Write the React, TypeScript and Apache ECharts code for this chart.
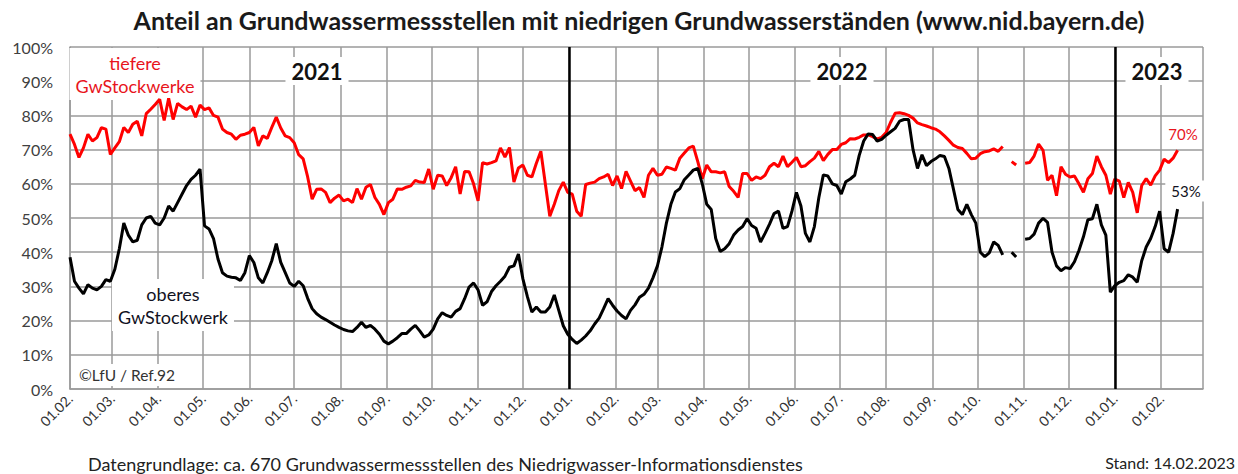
import React, { useEffect, useRef } from "react";
import * as echarts from "echarts";

// ---- data, one value every STEP_DAYS days from START_DATE ----
const START_DATE = "2021-02-01";
const END_DATE = "2023-03-01";
const STEP_DAYS = 3;
const YEAR_MARKS = ["2022-01-01", "2023-01-01"];
const Y_TICKS = [0, 10, 20, 30, 40, 50, 60, 70, 80, 90, 100];

// tiefere GwStockwerke (red)
const tiefere: (number | null)[] = [
  74.5, 71.5, 67.7, 70.5, 74.5, 72.5, 73.5, 76.4, 76, 68.6,
  70.5, 72.3, 76.5, 75, 77.4, 78.3, 74, 80.5, 81.8, 83.2,
  84.7, 78.5, 85, 78.8, 83.5, 82.5, 81.7, 82.7, 79.5, 83,
  81.7, 82.2, 80, 79.5, 76, 75, 74.5, 73, 74.2, 74.5,
  75, 76.5, 71.1, 74, 73.3, 76.5, 79.5, 76.3, 74, 73.5,
  72, 68.5, 67.3, 62, 55.5, 58.4, 58.5, 57.5, 54.5, 55.8,
  56.7, 55, 55.5, 54.5, 58.6, 55.5, 59, 59.8, 56, 54,
  51, 54.5, 55.5, 58.5, 58.4, 59, 59.4, 61, 60.5, 60.4,
  64.3, 58.4, 62.5, 62.3, 59.5, 61.8, 65, 57, 63.6, 63.5,
  60, 55, 66.2, 65.8, 66.2, 66.7, 70.5, 67.8, 70.6, 60.5,
  64.6, 65.5, 62.5, 62, 66, 69.5, 60, 50.5, 54, 58,
  60.5, 57.5, 57, 52, 50.5, 59.8, 60.2, 60.5, 61.5, 62,
  62.8, 59.5, 62.3, 58.6, 63.6, 60.8, 58, 58.9, 56, 62.5,
  64.5, 62.5, 62.8, 64.9, 64.5, 64, 67.5, 69, 70.5, 71,
  66.5, 61.5, 65.5, 63.5, 63.5, 63.2, 63.5, 59.2, 57.8, 56,
  63, 63, 61, 62, 61.5, 62.5, 65, 66, 65, 68.1,
  65, 66.3, 67.7, 65, 65.3, 66.5, 67.5, 69.5, 66.8, 68.6,
  70, 70, 71.5, 72, 73.2, 73.1, 73.6, 74.3, 74.3, 73.8,
  73.1, 73.6, 75, 78, 80.6, 80.8, 80.5, 80, 79.2, 77.8,
  77.3, 76.9, 76.4, 76, 75.2, 74, 72.7, 71.3, 70.6, 70.3,
  68.9, 67.3, 67.5, 68.8, 69.4, 69.6, 70.2, 69.5, 70.9, null,
  66.5, 65.5, null, 66, 66.2, 68.1, 71.6, 69.8, 61, 62.5,
  56.5, 65, 62.8, 62, 62.3, 60, 57.5, 61.5, 63, 68.1,
  65, 62.5, 57, 61.4, 60.8, 56, 60.4, 57.5, 51.5, 59.5,
  61.5, 59.6, 62.3, 64, 67.2, 66.2, 67.5, 69.8,
];

// oberes GwStockwerk (black)
const oberes: (number | null)[] = [
  38.5, 31.5, 29.5, 27.8, 30.5, 29.5, 29, 30, 32, 31.5,
  35, 41, 48.5, 45, 43, 43.5, 48, 50, 50.5, 48.5,
  48, 50, 53.5, 52, 54.5, 57, 59.5, 61.3, 62.5, 64.3,
  47.7, 46.8, 44, 38, 34, 33, 32.7, 32.5, 31.7, 34,
  39, 37, 32.5, 31, 34, 37.5, 42.5, 37, 34, 31,
  30, 31.5, 30.2, 26.5, 23.5, 22, 21, 20.3, 19.5, 18.7,
  18, 17.4, 17, 16.8, 18, 19.5, 18, 18.6, 17.5, 16,
  14, 13.2, 14, 15, 16.2, 16.2, 17.5, 18.6, 17, 15.2,
  15.8, 17.5, 20.5, 22.3, 21.5, 21, 22.7, 23.5, 26.4, 29.8,
  31, 29, 24.5, 25.5, 28.5, 30.2, 31.5, 33, 35.6, 36,
  39.5, 32.2, 27, 22.5, 24, 22.5, 22.5, 24, 27.5, 23,
  18.5, 16, 14.5, 13.3, 14.3, 15.5, 17, 19, 20.7, 23.5,
  26.4, 24.5, 22.8, 21.5, 20.5, 23, 24.6, 26.8, 27.7, 29.5,
  32.5, 36, 41.5, 48.5, 54, 57.6, 58.6, 61.2, 62.6, 64,
  64.5, 60, 54, 52.5, 44, 40.2, 41, 42.5, 45, 46.5,
  47.5, 49.8, 47.8, 47, 43, 45.5, 48.2, 51.3, 52, 47,
  47.5, 52, 57.5, 53.5, 45.5, 43, 47.5, 56, 62.6, 62.3,
  60, 59.5, 57, 60.6, 61.4, 62.5, 68.3, 72.5, 74.6, 74.4,
  72.5, 73, 74.2, 75.2, 76.2, 78.3, 78.8, 78.8, 70, 64.5,
  68.5, 65.3, 66.5, 67.3, 68.3, 68, 64.5, 58.5, 52.5, 51,
  54, 51, 48.5, 40, 38.7, 39.8, 43, 42, 39.2, null,
  40, 38.6, null, 43.8, 44, 45.3, 48.5, 49.9, 48.7, 40,
  36, 34.6, 35.5, 35.2, 37.2, 40.5, 44.5, 49.5, 49.8, 54,
  48, 45, 28.3, 30.2, 31.2, 31.7, 33.4, 32.7, 31.2, 37.5,
  41.5, 44, 47.5, 52, 41, 40, 45.5, 52.6,
];

const FONT = "Lato, 'Open Sans', sans-serif";
const GRID_COLOR = "#9a9a9a";

function buildCategories(): string[] {
  const out: string[] = [];
  const start = Date.parse(START_DATE + "T00:00:00Z");
  const end = Date.parse(END_DATE + "T00:00:00Z");
  for (let t = start; t <= end; t += 86400000) {
    out.push(new Date(t).toISOString().slice(0, 10));
  }
  return out;
}

export default function App() {
  const ref = useRef<HTMLDivElement>(null);

  useEffect(() => {
    if (!ref.current) return;
    const chart = echarts.init(ref.current, undefined, { renderer: "svg" });
    const cats = buildCategories();
    const last = cats.length - 1;
    const toPairs = (vals: (number | null)[]) =>
      vals.map((v, i) => [i * STEP_DAYS, v === null ? null : v]);
    const isMonthStart = (_i: number, v: string) => v.endsWith("-01");

    const boxText = (
      text: string,
      x: number,
      y: number,
      font: string,
      fill: string,
      lineHeight?: number
    ) => ({
      type: "text",
      z: 1,
      style: {
        text,
        x,
        y,
        font,
        fill,
        align: "center",
        verticalAlign: "middle",
        backgroundColor: "#ffffff",
        padding: [3, 6],
        lineHeight,
      },
    });

    chart.setOption({
      animation: false,
      backgroundColor: "#ffffff",
      grid: { left: 70, right: 35, top: 47, bottom: 85, containLabel: false },
      xAxis: {
        type: "category",
        data: cats,
        boundaryGap: false,
        axisLine: { show: true, lineStyle: { color: GRID_COLOR, width: 1.5 } },
        axisTick: { show: false },
        axisLabel: {
          interval: (i: number, v: string) => v.endsWith("-01") && i < last,
          rotate: 45,
          margin: 7,
          fontFamily: FONT,
          fontSize: 14,
          color: "#333333",
          formatter: (v: string) => `${v.slice(8, 10)}.${v.slice(5, 7)}.`,
        },
        splitLine: {
          show: true,
          interval: isMonthStart,
          lineStyle: { color: GRID_COLOR, width: 1.5 },
        },
      },
      yAxis: {
        type: "value",
        min: Y_TICKS[0],
        max: Y_TICKS[Y_TICKS.length - 1],
        interval: Y_TICKS[1] - Y_TICKS[0],
        axisLine: { show: true, lineStyle: { color: GRID_COLOR, width: 1.5 } },
        axisTick: { show: false },
        axisLabel: {
          formatter: "{value}%",
          fontFamily: FONT,
          fontSize: 16,
          color: "#404040",
          margin: 17,
        },
        splitLine: { show: true, lineStyle: { color: GRID_COLOR, width: 1.5 } },
      },
      series: [
        {
          name: "tiefere GwStockwerke",
          type: "line",
          data: toPairs(tiefere),
          showSymbol: false,
          connectNulls: false,
          lineStyle: { color: "#ff0000", width: 3 },
          z: 3,
        },
        {
          name: "oberes GwStockwerk",
          type: "line",
          data: toPairs(oberes),
          showSymbol: false,
          connectNulls: false,
          lineStyle: { color: "#000000", width: 3 },
          z: 4,
          markLine: {
            silent: true,
            symbol: "none",
            label: { show: false },
            lineStyle: { color: "#000000", width: 2.5, type: "solid" },
            data: YEAR_MARKS.map((d) => ({ xAxis: d })),
          },
        },
      ],
      graphic: {
        elements: [
          {
            type: "text",
            z: 5,
            style: {
              text: "Anteil an Grundwassermessstellen mit niedrigen Grundwasserständen (www.nid.bayern.de)",
              x: 639,
              y: 20,
              font: `bold 25px ${FONT}`,
              fill: "#1a1a1a",
              align: "center",
              verticalAlign: "middle",
            },
          },
          boxText("tiefere\nGwStockwerke", 135, 74, `18px ${FONT}`, "#e8141c", 23),
          boxText("2021", 317, 71, `bold 22px ${FONT}`, "#111111"),
          boxText("2022", 842, 71, `bold 22px ${FONT}`, "#111111"),
          boxText("2023", 1157, 71, `bold 22px ${FONT}`, "#111111"),
          boxText("oberes\nGwStockwerk", 173, 305, `18px ${FONT}`, "#111122", 23),
          boxText("©LfU / Ref.92", 127, 375, `15.5px ${FONT}`, "#333333"),
          {
            type: "text",
            z: 5,
            style: {
              text: "70%",
              x: 1183,
              y: 134,
              font: `15px ${FONT}`,
              fill: "#e8141c",
              align: "center",
              verticalAlign: "middle",
            },
          },
          boxText("53%", 1186, 191, `15px ${FONT}`, "#111122"),
          {
            type: "text",
            z: 5,
            style: {
              text: "Datengrundlage: ca. 670 Grundwassermessstellen des Niedrigwasser-Informationsdienstes",
              x: 88,
              y: 464,
              font: `18px ${FONT}`,
              fill: "#222222",
              align: "left",
              verticalAlign: "middle",
            },
          },
          {
            type: "text",
            z: 5,
            style: {
              text: "Stand: 14.02.2023",
              x: 1235,
              y: 462,
              font: `16px ${FONT}`,
              fill: "#222222",
              align: "right",
              verticalAlign: "middle",
            },
          },
        ],
      },
    });

    return () => chart.dispose();
  }, []);

  return (
    <div
      ref={ref}
      style={{
        position: "absolute",
        left: 0,
        top: 0,
        width: 1238,
        height: 474,
        background: "#ffffff",
      }}
    />
  );
}
